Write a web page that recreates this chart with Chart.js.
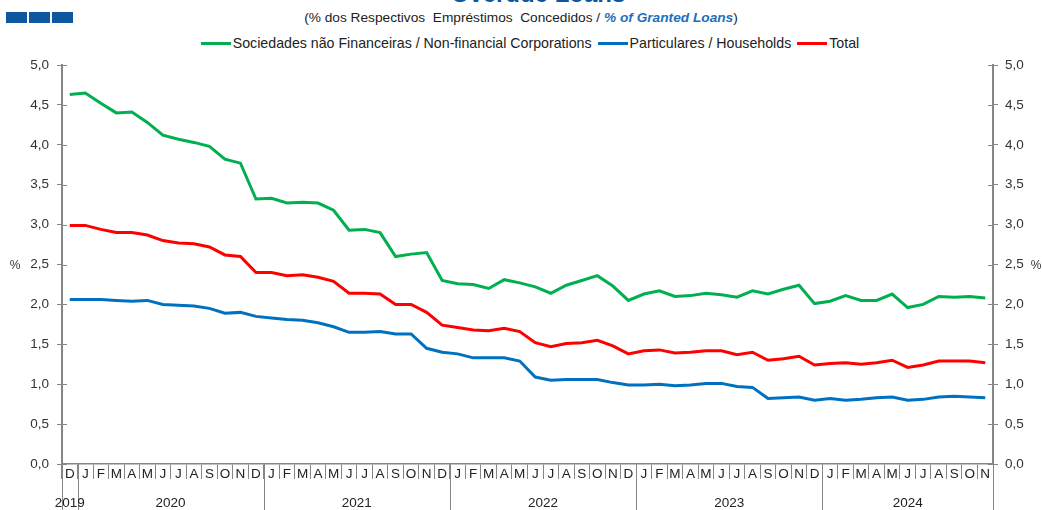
<!DOCTYPE html>
<html>
<head>
<meta charset="utf-8">
<script src="https://cdn.jsdelivr.net/npm/chart.js@4.4.1/dist/chart.umd.min.js"></script>
<style>
  body { margin: 0; background: #fff; font-family: "Liberation Sans", Arial, sans-serif; }
  #wrap { position: relative; width: 1042px; height: 510px; overflow: hidden; }
  #chart { position: absolute; left: 0; top: 0; }
  .sq { position: absolute; top: 12px; width: 21px; height: 11px; background: #0d56a0; }
  #title { position: absolute; left: 0; width: 1076px; top: -18px; text-align: center;
           font: bold 24px "Liberation Sans", Arial, sans-serif; line-height: 24px; color: #0d56a0; }
  #subtitle { position: absolute; left: 0; width: 1042px; top: 10px; text-align: center;
              font-size: 13.7px; line-height: 16px; color: #222; white-space: pre; }
  #subtitle b { color: #1c6fb8; font-style: italic; }
  #legend { position: absolute; left: 0; width: 1060px; top: 35px; display: flex; justify-content: center;
            font-size: 14.2px; line-height: 16px; color: #222; }
  .item { display: flex; align-items: center; margin: 0 3px; }
  .swatch { width: 30px; height: 3px; margin-right: 2px; }
</style>
</head>
<body>
<div id="wrap">
  <div class="sq" style="left:6px"></div>
  <div class="sq" style="left:29px"></div>
  <div class="sq" style="left:52px"></div>
  <div id="title">Overdue Loans</div>
  <div id="subtitle">(% dos Respectivos  Empréstimos  Concedidos / <b>% of Granted Loans</b>)</div>
  <div id="legend"></div>
  <canvas id="chart" width="1042" height="510"></canvas>
</div>
<script>
// meses: Dez 2019 .. Nov 2024
const months = [
  "D",
  "J","F","M","A","M","J","J","A","S","O","N","D",
  "J","F","M","A","M","J","J","A","S","O","N","D",
  "J","F","M","A","M","J","J","A","S","O","N","D",
  "J","F","M","A","M","J","J","A","S","O","N","D",
  "J","F","M","A","M","J","J","A","S","O","N"
];

// anos: [rótulo, primeiro índice, último índice]
const years = [
  ["2019", 0, 0],
  ["2020", 1, 12],
  ["2021", 13, 24],
  ["2022", 25, 36],
  ["2023", 37, 48],
  ["2024", 49, 59]
];

const seriesNames = [
  "Sociedades não Financeiras / Non-financial Corporations",
  "Particulares / Households",
  "Total"
];
const seriesColors = ["#00b050", "#0070c0", "#ff0000"];

const corporations = [
  4.63, 4.65, 4.52, 4.40, 4.41, 4.28, 4.12, 4.07, 4.03, 3.98, 3.82, 3.77,
  3.32, 3.33, 3.27, 3.28, 3.27, 3.18, 2.93, 2.94, 2.90, 2.60, 2.63, 2.65,
  2.30, 2.26, 2.25, 2.20, 2.31, 2.27, 2.22, 2.14, 2.24, 2.30, 2.36, 2.23,
  2.05, 2.13, 2.17, 2.10, 2.11, 2.14, 2.12, 2.09, 2.17, 2.13, 2.19, 2.24,
  2.01, 2.04, 2.11, 2.05, 2.05, 2.13, 1.96, 2.00, 2.10, 2.09, 2.10, 2.08
];

const households = [
  2.06, 2.06, 2.06, 2.05, 2.04, 2.05, 2.00, 1.99, 1.98, 1.95, 1.89, 1.90,
  1.85, 1.83, 1.81, 1.80, 1.77, 1.72, 1.65, 1.65, 1.66, 1.63, 1.63, 1.45,
  1.40, 1.38, 1.33, 1.33, 1.33, 1.29, 1.09, 1.05, 1.06, 1.06, 1.06, 1.02,
  0.99, 0.99, 1.00, 0.98, 0.99, 1.01, 1.01, 0.97, 0.96, 0.82, 0.83, 0.84,
  0.80, 0.82, 0.80, 0.81, 0.83, 0.84, 0.80, 0.81, 0.84, 0.85, 0.84, 0.83
];

const total = [
  2.99, 2.99, 2.94, 2.90, 2.90, 2.87, 2.80, 2.77, 2.76, 2.72, 2.62, 2.60,
  2.40, 2.40, 2.36, 2.37, 2.34, 2.29, 2.14, 2.14, 2.13, 2.00, 2.00, 1.90,
  1.74, 1.71, 1.68, 1.67, 1.70, 1.66, 1.52, 1.47, 1.51, 1.52, 1.55, 1.48,
  1.38, 1.42, 1.43, 1.39, 1.40, 1.42, 1.42, 1.37, 1.40, 1.30, 1.32, 1.35,
  1.24, 1.26, 1.27, 1.25, 1.27, 1.30, 1.21, 1.24, 1.29, 1.29, 1.29, 1.27
];

const yTicks = [0, 0.5, 1, 1.5, 2, 2.5, 3, 3.5, 4, 4.5, 5];

// legenda
const legend = document.getElementById("legend");
seriesNames.forEach((name, i) => {
  const item = document.createElement("div");
  item.className = "item";
  item.innerHTML = `<span class="swatch" style="background:${seriesColors[i]}"></span><span>${name}</span>`;
  legend.appendChild(item);
});

const axisGray = "#868686";
const tickFont = { family: "Liberation Sans", size: 13.5 };
const fmt = v => Number(v).toFixed(1).replace(".", ",");

// separadores de anos, rótulos dos anos, "%" e marcas interiores
const extras = {
  id: "extras",
  afterDraw(chart) {
    const ctx = chart.ctx;
    const xs = chart.scales.x;
    const yl = chart.scales.y;
    const area = chart.chartArea;
    ctx.save();
    ctx.strokeStyle = axisGray;
    ctx.lineWidth = 1;

    // marcas dos ticks para dentro
    yTicks.forEach(v => {
      const py = Math.round(yl.getPixelForValue(v)) + 0.5;
      ctx.beginPath();
      ctx.moveTo(area.left, py); ctx.lineTo(area.left + 5, py);
      ctx.moveTo(area.right - 5, py); ctx.lineTo(area.right, py);
      ctx.stroke();
    });

    // separadores longos entre anos
    const bounds = [0, 1, 13, 25, 37, 49, months.length];
    bounds.forEach(b => {
      const px = Math.round(xs.getPixelForValue(b - 0.5)) + 0.5;
      ctx.beginPath();
      ctx.moveTo(px, area.bottom);
      ctx.lineTo(px, chart.height);
      ctx.stroke();
    });

    ctx.fillStyle = "#222";
    ctx.font = "13.5px 'Liberation Sans', Arial, sans-serif";
    ctx.textAlign = "center";
    ctx.textBaseline = "middle";
    years.forEach(([label, a, b]) => {
      ctx.fillText(label, xs.getPixelForValue((a + b) / 2), 503);
    });

    const pctY = yl.getPixelForValue(2.5);
    ctx.fillStyle = "#333";
    ctx.font = "12px 'Liberation Sans', Arial, sans-serif";
    ctx.fillText("%", 15, pctY + 1);
    ctx.fillText("%", 1036, pctY + 1);
    ctx.restore();
  }
};

const yAxis = (position, width, pad) => ({
  position,
  min: 0,
  max: 5,
  afterFit: s => { s.width = width; },
  afterBuildTicks: s => { s.ticks = yTicks.map(v => ({ value: v })); },
  grid: { drawOnChartArea: false, drawTicks: true, tickLength: 5, color: axisGray },
  border: { display: true, color: axisGray, width: 2 },
  ticks: { callback: v => fmt(v), font: tickFont, color: "#333", padding: pad }
});

new Chart(document.getElementById("chart"), {
  type: "line",
  data: {
    labels: months,
    datasets: [corporations, households, total].map((d, i) => ({
      label: seriesNames[i],
      data: d,
      borderColor: seriesColors[i],
      backgroundColor: seriesColors[i],
      borderWidth: 3,
      pointRadius: 0,
      tension: 0,
      yAxisID: "y"
    }))
  },
  options: {
    responsive: false,
    devicePixelRatio: 1,
    animation: false,
    layout: { padding: { top: 65, left: 0, right: 0, bottom: 0 } },
    plugins: { legend: { display: false }, tooltip: { enabled: false } },
    scales: {
      x: {
        offset: true,
        afterFit: s => { s.height = 46; },
        grid: { offset: true, drawOnChartArea: false, drawTicks: true, tickLength: 15, color: axisGray },
        border: { display: true, color: axisGray, width: 1.5 },
        ticks: { autoSkip: false, maxRotation: 0, minRotation: 0, font: tickFont, color: "#222", padding: -13 }
      },
      y: yAxis("left", 62, 8),
      y2: yAxis("right", 49, 7)
    }
  },
  plugins: [extras]
});
</script>
</body>
</html>
